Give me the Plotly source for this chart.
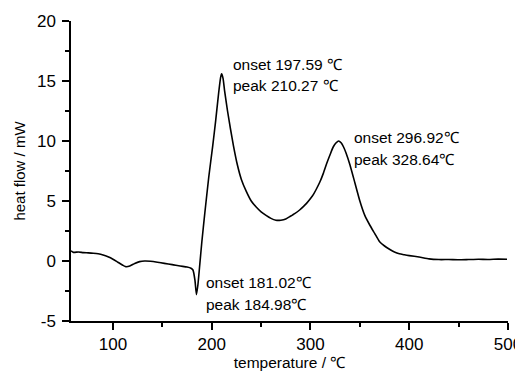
import plotly.graph_objects as go

# temperature (°C) and heat flow (mW)
temperature = [57.5, 60, 65, 70, 75, 80, 85, 90, 95, 100, 105, 110, 113, 117, 122, 127, 132, 138,
               145, 152, 160, 168, 175, 179, 181, 183, 184.5, 186, 188, 190, 193, 197, 201, 204,
               207, 209, 210, 211.5, 213, 216, 219, 222, 226, 230, 235, 240, 245, 250, 255, 260,
               265, 270, 275, 279, 284, 289, 293, 296, 300, 303, 306, 309.6, 313, 316.3, 320, 323,
               326, 328.5, 331, 333.5, 336, 340, 345, 350, 355, 360, 365, 370, 375, 380, 385, 390,
               395, 400, 410, 420, 430, 440, 450, 460, 470, 480, 490, 499]
heat_flow = [0.85, 0.72, 0.75, 0.7, 0.68, 0.65, 0.6, 0.5, 0.35, 0.15, -0.1, -0.35, -0.47, -0.42,
             -0.2, -0.05, 0.0, -0.02, -0.1, -0.2, -0.3, -0.42, -0.5, -0.6, -0.75, -1.6, -2.8,
             -2.0, -0.2, 1.6, 4.0, 7.0, 9.6, 11.7, 14.0, 15.3, 15.6, 15.2, 14.2, 12.5, 11.0, 9.6,
             8.0, 6.8, 5.8, 5.0, 4.5, 4.1, 3.8, 3.55, 3.4, 3.4, 3.5, 3.7, 3.95, 4.25, 4.55, 4.8,
             5.2, 5.55, 6.0, 6.6, 7.3, 8.1, 8.9, 9.5, 9.85, 10.0, 9.85, 9.5, 9.0, 8.0, 6.5, 5.0,
             3.8, 3.0, 2.3, 1.6, 1.25, 0.98, 0.75, 0.6, 0.52, 0.45, 0.33, 0.18, 0.12, 0.12, 0.1,
             0.12, 0.14, 0.13, 0.16, 0.15]

x_tickvals = [100, 200, 300, 400, 500]
x_ticktext = ["100", "200", "300", "400", "500"]
x_minor = [150, 250, 350, 450]
y_tickvals = [-5, 0, 5, 10, 15, 20]
y_ticktext = ["-5", "0", "5", "10", "15", "20"]
y_minor = [-2.5, 2.5, 7.5, 12.5, 17.5]

labels = [
    ("onset 197.59 ℃", 219.5, 16.35),
    ("peak 210.27 ℃", 219.5, 14.65),
    ("onset 296.92℃", 342.5, 10.3),
    ("peak 328.64℃", 342.5, 8.45),
    ("onset 181.02℃", 192.5, -1.8),
    ("peak 184.98℃", 192.5, -3.6),
]

FONT = "Liberation Sans, Arial, sans-serif"

fig = go.Figure()
fig.add_trace(go.Scatter(x=temperature, y=heat_flow, mode="lines",
                         line=dict(color="black", width=1.6, shape="spline", smoothing=0.5),
                         showlegend=False, hoverinfo="skip"))

for text, x, y in labels:
    fig.add_annotation(x=x, y=y, text=text, showarrow=False, xanchor="left", yanchor="middle",
                       font=dict(family=FONT, size=15.5, color="black"))

axis_common = dict(showgrid=False, zeroline=False, showline=True, linecolor="black", linewidth=1.5,
                   ticks="outside", ticklen=7, tickwidth=1.5, tickcolor="black", automargin=False,
                   tickfont=dict(family=FONT, size=17, color="black"), mirror=False)

fig.update_xaxes(range=[57.5, 500], tickmode="array", tickvals=x_tickvals, ticktext=x_ticktext,
                 minor=dict(tickvals=x_minor, ticklen=4, tickwidth=1.5, tickcolor="black", ticks="outside"),
                 ticklabeloverflow="allow",
                 title=dict(text="temperature / ℃", font=dict(family=FONT, size=15.5, color="black"), standoff=3),
                 **axis_common)
fig.update_yaxes(range=[-5, 20], tickmode="array", tickvals=y_tickvals, ticktext=y_ticktext,
                 minor=dict(tickvals=y_minor, ticklen=4, tickwidth=1.5, tickcolor="black", ticks="outside"),
                 ticklabelstandoff=3,
                 title=dict(text="heat flow / mW", font=dict(family=FONT, size=15, color="black"), standoff=8),
                 **axis_common)

# the page body adds an 8px offset, so the figure is sized to end exactly at the window edge
fig.update_layout(width=515, height=364, margin=dict(l=63, r=15, t=13, b=51),
                  plot_bgcolor="white", paper_bgcolor="white")

fig.write_html("out.html")
